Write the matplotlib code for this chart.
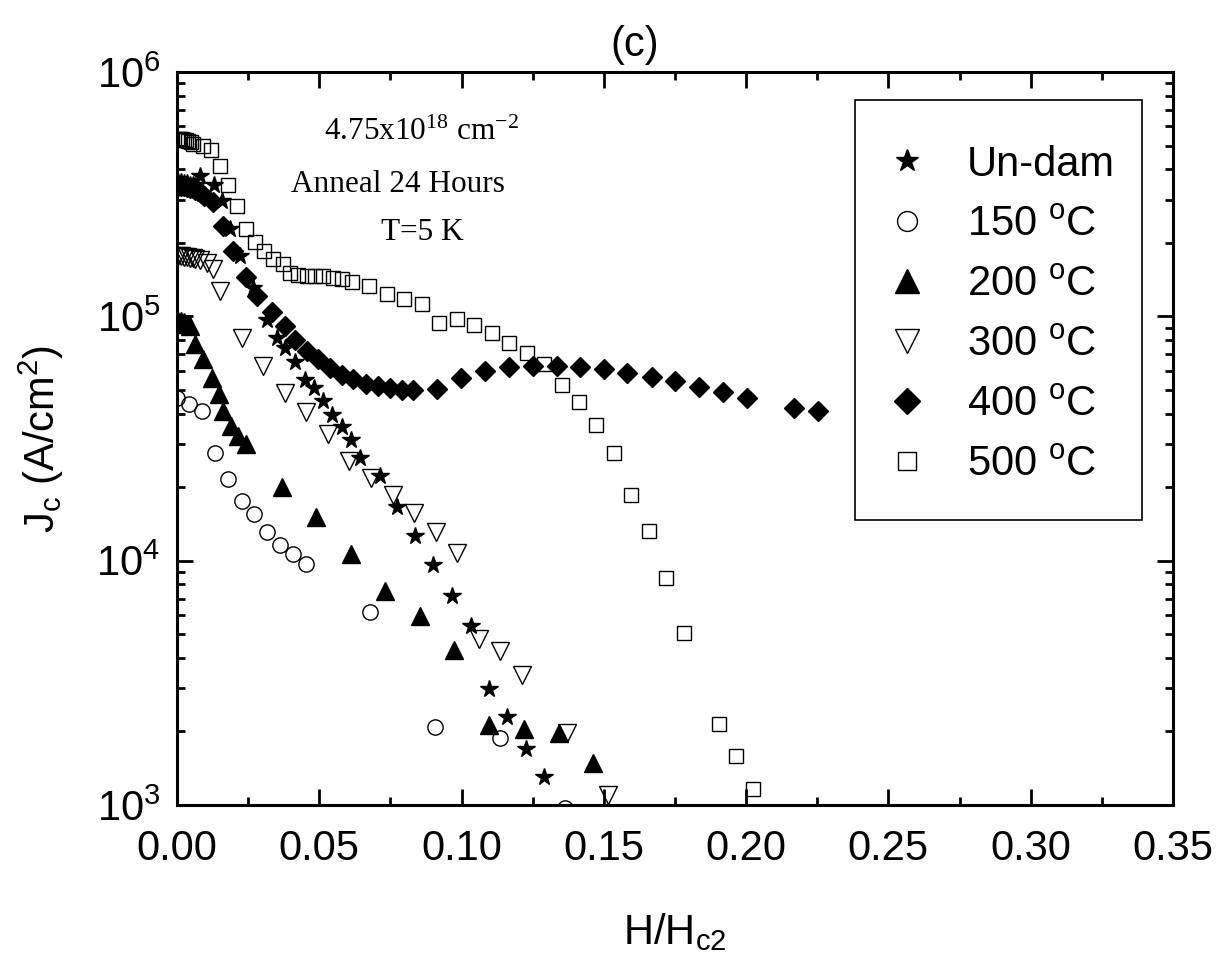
import matplotlib
matplotlib.use('Agg')
import matplotlib.pyplot as plt
from matplotlib.patches import Rectangle
from matplotlib.ticker import MultipleLocator, LogLocator, FormatStrFormatter, NullFormatter

plt.rcParams['font.family'] = ['Liberation Sans', 'DejaVu Sans']
plt.rcParams['mathtext.default'] = 'regular'

# ---------------- data (H/Hc2, Jc in A/cm^2) ----------------
undam_x = [0.0005, 0.0015, 0.0025, 0.0035, 0.0045, 0.0055, 0.0065, 0.0081, 0.0130, 0.0157, 0.0186,
           0.0221, 0.0267, 0.0318, 0.0350, 0.0379, 0.0415, 0.0450, 0.0481, 0.0513, 0.0544,
           0.0579, 0.0613, 0.0643, 0.0713, 0.0772, 0.0836, 0.0901, 0.0965, 0.1032, 0.1097,
           0.1161, 0.1225, 0.1290]
undam_y = [3.55e5, 3.55e5, 3.5e5, 3.5e5, 3.45e5, 3.45e5, 3.4e5, 3.74e5, 3.44e5, 2.97e5, 2.28e5,
           1.77e5, 1.31e5, 9.63e4, 8.18e4, 7.39e4, 6.51e4, 5.51e4, 5.10e4, 4.50e4, 3.96e4,
           3.54e4, 3.12e4, 2.64e4, 2.23e4, 1.66e4, 1.26e4, 9.63e3, 7.19e3, 5.38e3, 2.98e3,
           2.29e3, 1.69e3, 1.30e3]

t150_x = [0.0000, 0.0043, 0.0089, 0.0134, 0.0180, 0.0227, 0.0272, 0.0317, 0.0362, 0.0407,
          0.0452, 0.0678, 0.0908, 0.1135, 0.1363]
t150_y = [4.64e4, 4.39e4, 4.09e4, 2.76e4, 2.16e4, 1.76e4, 1.55e4, 1.31e4, 1.16e4, 1.06e4,
          9.73e3, 6.17e3, 2.09e3, 1.88e3, 9.7e2]

t200_x = [0.0005, 0.0015, 0.0025, 0.0035, 0.0046, 0.0063, 0.0092, 0.0122, 0.0149, 0.0163,
          0.0189, 0.0215, 0.0242, 0.0369, 0.0488, 0.0610, 0.0731, 0.0854, 0.0973, 0.1097,
          0.1219, 0.1343, 0.1463]
t200_y = [9.6e4, 9.6e4, 9.5e4, 9.3e4, 9.1e4, 7.67e4, 6.66e4, 5.61e4, 4.79e4, 4.09e4,
          3.55e4, 3.23e4, 2.99e4, 2.00e4, 1.51e4, 1.06e4, 7.49e3, 5.91e3, 4.32e3, 2.13e3,
          2.04e3, 1.97e3, 1.48e3]

t300_x = [0.0005, 0.0015, 0.0025, 0.0035, 0.0045, 0.0055, 0.0065, 0.0080, 0.0104, 0.0126,
          0.0151, 0.0227, 0.0303, 0.0378, 0.0453, 0.0530, 0.0605, 0.0681, 0.0758, 0.0833,
          0.0909, 0.0983, 0.1061, 0.1135, 0.1211, 0.1369, 0.1515]
t300_y = [1.76e5, 1.76e5, 1.75e5, 1.75e5, 1.74e5, 1.73e5, 1.72e5, 1.7e5, 1.66e5, 1.56e5,
          1.27e5, 8.18e4, 6.25e4, 4.86e4, 4.05e4, 3.31e4, 2.55e4, 2.18e4, 1.86e4, 1.57e4,
          1.31e4, 1.08e4, 4.78e3, 4.25e3, 3.41e3, 1.98e3, 1.10e3]

t400_x = [0.0005, 0.0015, 0.0025, 0.0035, 0.0045, 0.0055, 0.0065, 0.0075, 0.0085, 0.0095,
          0.0125, 0.0161, 0.0196, 0.0242, 0.0280, 0.0333, 0.0379, 0.0415, 0.0456, 0.0496,
          0.0538, 0.0579, 0.0619, 0.0664, 0.0707, 0.0748, 0.0790, 0.0830, 0.0915, 0.0998,
          0.1083, 0.1167, 0.1250, 0.1334, 0.1416, 0.1499, 0.1582, 0.1668, 0.1751, 0.1834,
          0.1917, 0.2002, 0.2168, 0.2251]
t400_y = [3.4e5, 3.4e5, 3.4e5, 3.38e5, 3.36e5, 3.34e5, 3.3e5, 3.25e5, 3.2e5, 3.1e5,
          2.93e5, 2.35e5, 1.85e5, 1.45e5, 1.21e5, 1.04e5, 9.12e4, 7.98e4, 7.21e4, 6.67e4,
          6.17e4, 5.78e4, 5.56e4, 5.31e4, 5.18e4, 5.07e4, 5.00e4, 5.00e4, 5.02e4, 5.61e4,
          5.97e4, 6.18e4, 6.25e4, 6.25e4, 6.22e4, 6.07e4, 5.84e4, 5.66e4, 5.42e4, 5.15e4,
          4.90e4, 4.64e4, 4.20e4, 4.09e4]

t500_x = [0.0005, 0.0012, 0.0019, 0.0026, 0.0033, 0.0040, 0.0048, 0.0056, 0.0090, 0.0119,
          0.0151, 0.0179, 0.0211, 0.0243, 0.0274, 0.0306, 0.0337, 0.0372, 0.0397, 0.0425,
          0.0456, 0.0485, 0.0513, 0.0547, 0.0579, 0.0614, 0.0675, 0.0737, 0.0798, 0.0860,
          0.0922, 0.0983, 0.1044, 0.1106, 0.1168, 0.1229, 0.1291, 0.1352, 0.1413, 0.1473,
          0.1535, 0.1596, 0.1657, 0.1719, 0.1780, 0.1904, 0.1964, 0.2025]
t500_y = [5.3e5, 5.3e5, 5.3e5, 5.25e5, 5.25e5, 5.2e5, 5.15e5, 5.07e5, 4.96e5, 4.8e5,
          4.12e5, 3.44e5, 2.82e5, 2.28e5, 2.01e5, 1.85e5, 1.71e5, 1.63e5, 1.51e5, 1.47e5,
          1.46e5, 1.46e5, 1.46e5, 1.44e5, 1.42e5, 1.38e5, 1.33e5, 1.24e5, 1.18e5, 1.12e5,
          9.35e4, 9.79e4, 9.25e4, 8.57e4, 7.80e4, 7.05e4, 6.41e4, 5.22e4, 4.45e4, 3.59e4,
          2.76e4, 1.85e4, 1.32e4, 8.5e3, 5.06e3, 2.15e3, 1.59e3, 1.16e3]

labels = ['Un-dam', '150 $^{o}$C', '200 $^{o}$C', '300 $^{o}$C', '400 $^{o}$C', '500 $^{o}$C']
x_ticks = [0.00, 0.05, 0.10, 0.15, 0.20, 0.25, 0.30, 0.35]

# ---------------- figure ----------------
W, H = 1225, 957
fig = plt.figure(figsize=(W / 100, H / 100), dpi=100)
ax = fig.add_axes([177 / W, 1 - 805 / H, 996 / W, 733 / H])

series = [
    (undam_x, undam_y, dict(marker='*', ms=13, mfc='black')),
    (t150_x, t150_y, dict(marker='o', ms=11, mfc='none')),
    (t200_x, t200_y, dict(marker='^', ms=13, mfc='black')),
    (t300_x, t300_y, dict(marker='v', ms=13.5, mfc='none')),
    (t400_x, t400_y, dict(marker='D', ms=10, mfc='black')),
    (t500_x, t500_y, dict(marker='s', ms=10, mfc='none')),
]
for (xs, ys, st), lab in zip(series, labels):
    ax.plot(xs, ys, ls='none', mec='black', mew=1.0, label=lab, **st)

ax.set_yscale('log')
ax.set_xlim(0.0, 0.35)
ax.set_ylim(1e3, 1e6)

ax.set_xticks(x_ticks)
ax.xaxis.set_major_formatter(FormatStrFormatter('%.2f'))
ax.xaxis.set_minor_locator(MultipleLocator(0.025))
ax.yaxis.set_major_locator(LogLocator(base=10, numticks=10))
ax.yaxis.set_minor_locator(LogLocator(base=10, subs=range(2, 10), numticks=20))
ax.yaxis.set_minor_formatter(NullFormatter())

ax.tick_params(which='both', direction='in', top=True, right=True, width=2.0)
ax.tick_params(which='major', length=11.5, labelsize=30)
ax.tick_params(axis='x', which='major', pad=17)
ax.tick_params(axis='y', which='major', pad=12)
ax.tick_params(which='minor', length=6)
for sp in ax.spines.values():
    sp.set_linewidth(2.2)

ax.set_xlabel('H/H$_{c2}$', fontsize=30, labelpad=31)
ax.set_ylabel('J$_{c}$ (A/cm$^{2}$)', fontsize=30, labelpad=22)
fig.text(635 / W, 1 - 45 / H, '(c)', fontsize=30, ha='center', va='center')

serif = 'Liberation Serif'
ax.text(0.245, 0.918, '4.75x10$^{18}$ cm$^{-2}$', transform=ax.transAxes,
        ha='center', va='center', fontsize=22.5, family=serif)
ax.text(0.222, 0.846, 'Anneal 24 Hours', transform=ax.transAxes,
        ha='center', va='center', fontsize=22.5, family=serif)
ax.text(0.246, 0.781, 'T=5 K', transform=ax.transAxes,
        ha='center', va='center', fontsize=22.5, family=serif)

leg = ax.legend(loc='upper left', bbox_to_anchor=(855 / W, 1 - 100 / H),
                bbox_transform=fig.transFigure, fontsize=30, markerscale=1.3,
                frameon=False, borderpad=1.08, handlelength=0.35, handletextpad=1.26,
                labelspacing=0.48, borderaxespad=0)
ax.add_patch(Rectangle((855 / W, 1 - 520 / H), 287 / W, 420 / H, transform=fig.transFigure,
                       fill=False, edgecolor='black', linewidth=1.2, clip_on=False))

fig.savefig('out.png', dpi=100)
